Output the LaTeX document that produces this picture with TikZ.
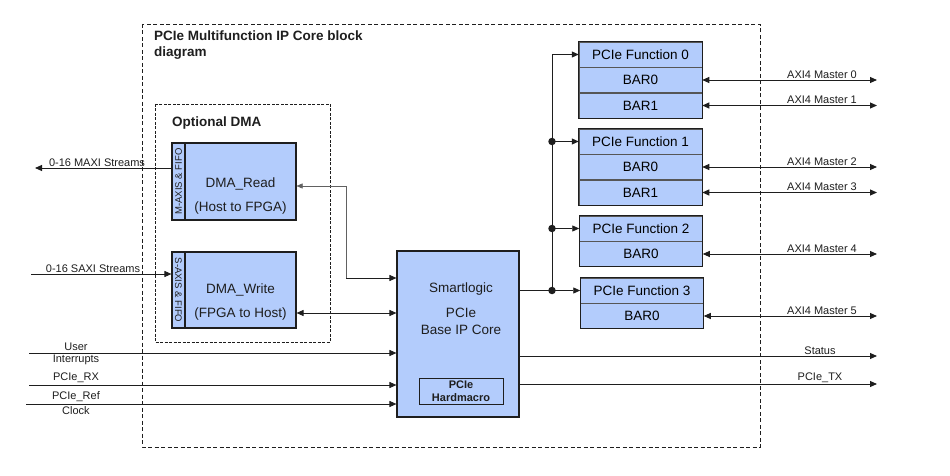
\documentclass[tikz,border=0pt]{standalone}
\usepackage{fontspec}
\setmainfont{Liberation Sans}
\usetikzlibrary{positioning, arrows.meta, calc, fit}
\definecolor{Block}{HTML}{B3CCFC}
\definecolor{Ink}{HTML}{1E1E1E}

\begin{document}
\begin{tikzpicture}[x=1pt, y=-1pt,
    block/.style={draw=Ink, line width=1.1pt, fill=Block, inner sep=0pt},
    row/.style={draw=Ink!75, line width=0.5pt, fill=Block, inner sep=0pt,
                minimum width=123pt, minimum height=25pt,
                font=\fontsize{13.5}{15}\selectfont},
    sig/.style={line width=0.9pt, draw=Ink, -{Triangle[length=7pt,width=6pt]}},
    bisig/.style={line width=0.9pt, draw=Ink,
                  {Triangle[length=7pt,width=6pt]}-{Triangle[length=7pt,width=6pt]}},
    lbl/.style={font=\fontsize{11}{12}\selectfont, text=Ink, inner sep=1pt},
    junction/.style={circle, fill=Ink, inner sep=0pt, minimum size=7.5pt}]
    \useasboundingbox (0,0) rectangle (950,476);

    % frames
    \draw[Ink, line width=0.9pt, dash pattern=on 4pt off 2.5pt] (142,24) rectangle (760,447);
    \node[anchor=north west, align=left, inner sep=1pt,
          font=\bfseries\fontsize{13.5}{16}\selectfont, text=Ink]
        (title) at (153,30) {PCIe Multifunction IP Core block\\diagram};
    \draw[Ink, line width=0.7pt, dash pattern=on 3pt off 1.5pt] (155,104) rectangle (330,342);
    \node[anchor=west, inner sep=1pt, font=\bfseries\fontsize{13.5}{16}\selectfont, text=Ink]
        (optdma) at (171,123) {Optional DMA};

    % DMA engines
    \node[block, minimum width=111pt, minimum height=77pt] (rd) at (240.5,181.5) {};
    \node[block, minimum width=13pt, minimum height=77pt] (rdfifo) at (178.5,181.5) {};
    \node[rotate=90, font=\fontsize{9.5}{10}\selectfont, text=Ink, inner sep=0pt]
        (rdfifotxt) at (rdfifo.center) {M-AXIS \& FIFO};
    \node[align=center, font=\fontsize{13.5}{24}\selectfont, text=Ink]
        (rdtxt) at (240.5,196) {DMA\_Read\\(Host to FPGA)};

    \node[block, minimum width=111pt, minimum height=76pt] (wr) at (240.5,290) {};
    \node[block, minimum width=13pt, minimum height=76pt] (wrfifo) at (178.5,290) {};
    \node[rotate=-90, font=\fontsize{9.5}{10}\selectfont, text=Ink, inner sep=0pt]
        (wrfifotxt) at (wrfifo.center) {S-AXIS \& FIFO};
    \node[align=center, font=\fontsize{13.5}{24}\selectfont, text=Ink]
        (wrtxt) at (240.5,302) {DMA\_Write\\(FPGA to Host)};

    % base core
    \node[block, minimum width=122pt, minimum height=166pt] (core) at (458,334) {};
    \node[font=\fontsize{13.5}{15}\selectfont, text=Ink] (coretxt) at (461,289) {Smartlogic};
    \node[align=center, font=\fontsize{13.5}{17}\selectfont, text=Ink]
        (coretxtb) at (461,321) {PCIe\\Base IP Core};
    \node[draw=Ink, line width=0.9pt, fill=Block, minimum width=84pt, minimum height=26pt,
          inner sep=0pt, align=center, font=\bfseries\fontsize{11}{13}\selectfont, text=Ink]
        (hm) at (461,391) {PCIe\\Hardmacro};

    % functions
    \node[row] (f0t) at (640.5,54.5) {PCIe Function 0};
    \node[row, below=0pt of f0t] (f0b0) {BAR0};
    \node[row, below=0pt of f0b0] (f0b1) {BAR1};
    \node[fit=(f0t)(f0b1), draw=Ink, line width=1.1pt, inner sep=0pt] (fn0) {};

    \node[row] (f1t) at (640.5,141.5) {PCIe Function 1};
    \node[row, below=0pt of f1t] (f1b0) {BAR0};
    \node[row, below=0pt of f1b0] (f1b1) {BAR1};
    \node[fit=(f1t)(f1b1), draw=Ink, line width=1.1pt, inner sep=0pt] (fn1) {};

    \node[row] (f2t) at (641,228.5) {PCIe Function 2};
    \node[row, below=0pt of f2t] (f2b0) {BAR0};
    \node[fit=(f2t)(f2b0), draw=Ink, line width=1.1pt, inner sep=0pt] (fn2) {};

    \node[row] (f3t) at (642,290.5) {PCIe Function 3};
    \node[row, below=0pt of f3t] (f3b0) {BAR0};
    \node[fit=(f3t)(f3b0), draw=Ink, line width=1.1pt, inner sep=0pt] (fn3) {};

    % fan-out to the functions
    \coordinate (fork) at (552,290.5);
    \draw[line width=0.9pt, draw=Ink] (core.east |- fork) -- (fork);
    \draw[sig] (fork) |- (f0t.west);
    \draw[sig] (fork |- f1t.west) -- (f1t.west);
    \draw[sig] (fork |- f2t.west) -- (f2t.west);
    \draw[sig] (fork) -- (f3t.west);
    \node[junction] (j1) at (fork |- f1t.west) {};
    \node[junction] (j2) at (fork |- f2t.west) {};
    \node[junction] (j3) at (fork) {};

    % AXI4 masters
    \coordinate (rightedge) at (877,0);
    \foreach \bar/\num in {f0b0/0, f0b1/1, f1b0/2, f1b1/3, f2b0/4, f3b0/5} {
        \draw[bisig] (\bar.east) -- (\bar.east -| rightedge);
        \node[lbl, anchor=south] (axi\num) at ($(\bar.east -| rightedge)+(-55,-0.5)$) {AXI4 Master \num};
    }

    % core outputs
    \coordinate (status) at (877,356);
    \draw[sig] (status -| core.east) -- (status);
    \node[lbl, anchor=south] (statustxt) at ($(status)+(-57,-0.5)$) {Status};
    \coordinate (pcietx) at (877,384);
    \draw[sig] (pcietx -| core.east) -- (pcietx);
    \node[lbl, anchor=south] (pcietxtxt) at ($(pcietx)+(-57,-0.5)$) {PCIe\_TX};

    % core inputs
    \coordinate (usrint) at (29,353);
    \draw[sig] (usrint) -- (usrint -| core.west);
    \node[lbl, anchor=south, inner sep=2pt] (usrtxt) at (76,353) {User};
    \node[lbl, anchor=north, inner sep=2pt] (inttxt) at (76,353) {Interrupts};
    \coordinate (pcierx) at (29,385);
    \draw[sig] (pcierx) -- (pcierx -| core.west);
    \node[lbl, anchor=south, inner sep=2pt] (rxtxt) at (76,385) {PCIe\_RX};
    \coordinate (refclk) at (26,404);
    \draw[sig] (refclk) -- (refclk -| core.west);
    \node[lbl, anchor=south, inner sep=2pt] (reftxt) at (76,404) {PCIe\_Ref};
    \node[lbl, anchor=north, inner sep=2pt] (clktxt) at (76,404) {Clock};

    % streams
    \coordinate (maxi) at (35,168);
    \draw[sig] (maxi -| rdfifo.west) -- (maxi);
    \node[lbl, anchor=south] (maxitxt) at (97,168) {0-16 MAXI Streams};
    \coordinate (saxi) at (31,274);
    \draw[sig] (saxi) -- (saxi -| wrfifo.west);
    \node[lbl, anchor=south] (saxitxt) at (93,274) {0-16 SAXI Streams};

    % DMA to core
    \coordinate (rdlink) at (346,278);
    \coordinate (wrport) at ($(wr.east)+(0,23)$);
    \draw[line width=0.5pt, draw=Ink!70, {Triangle[length=6pt,width=5pt]}-]
        ($(rd.east)+(0,4.5)$) -| (rdlink);
    \draw[sig] (rdlink) -- (rdlink -| core.west);
    \draw[bisig] (wrport) -- (wrport -| core.west);
\end{tikzpicture}
\end{document}
